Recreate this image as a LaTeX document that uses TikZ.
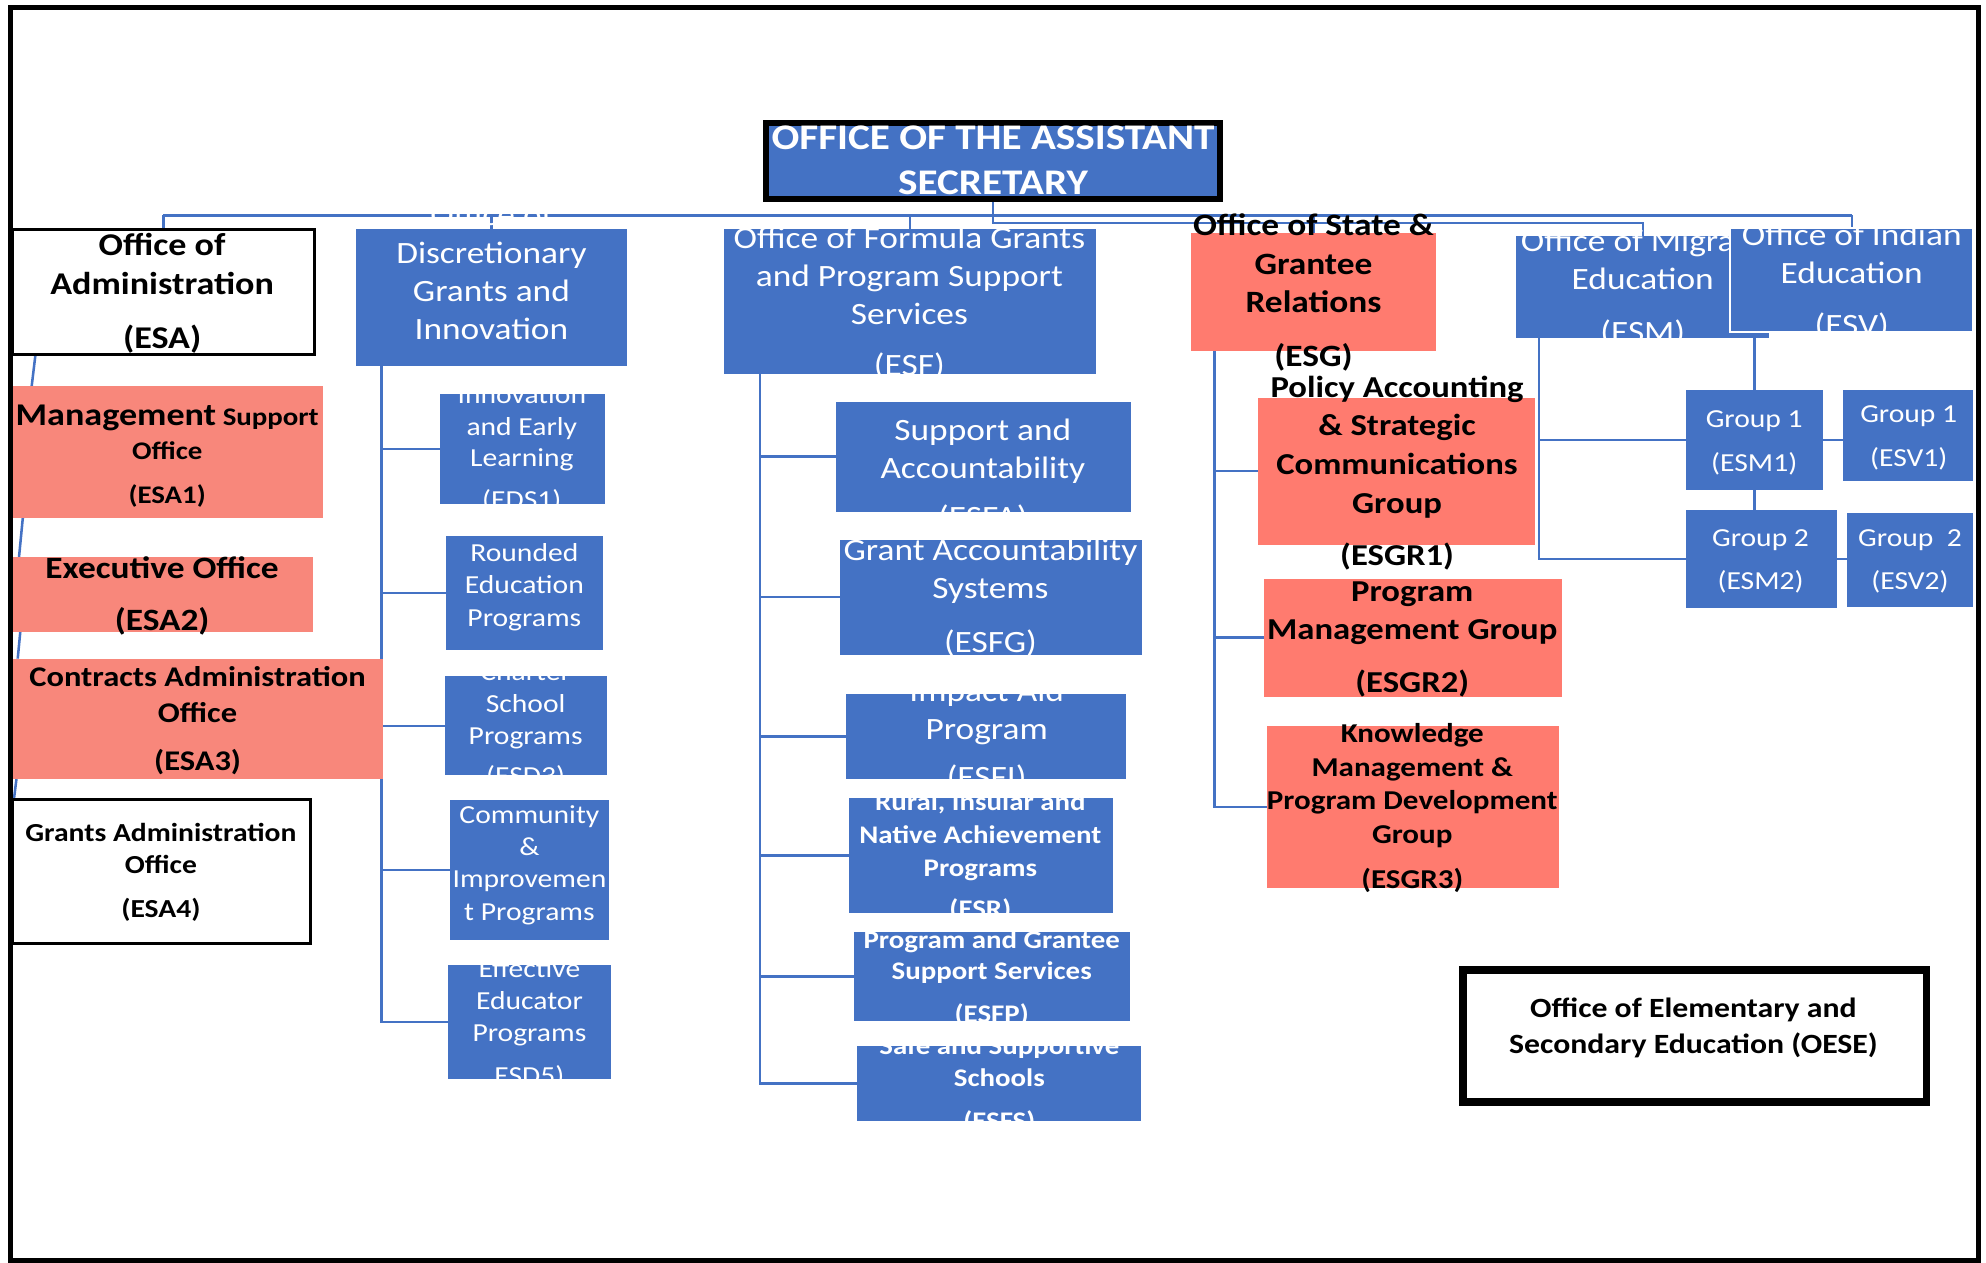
\documentclass[tikz,border=0pt]{standalone}
\usepackage{fontspec}
\setmainfont{Carlito}[FakeStretch=1.14]
\usetikzlibrary{fit,backgrounds}

\definecolor{oblue}{HTML}{4472C4}
\definecolor{osalmon}{HTML}{F8877B}
\definecolor{ored}{HTML}{FF7B6F}

\newcommand\fs[2]{\fontsize{#1}{#2}\selectfont}

\begin{document}
\begin{tikzpicture}[x=1pt, y=-1pt,
    box/.style={rectangle, inner sep=0pt, outer sep=0pt},
    bluebox/.style={box, fill=oblue},
    redbox/.style={box, fill=osalmon},
    rosebox/.style={box, fill=ored},
    plainbox/.style={box, fill=white, draw=black, line width=2.5pt},
    wtext/.style={text=white, align=center, inner sep=0pt},
    btext/.style={text=black, align=center, inner sep=0pt, font=\bfseries},
    link/.style={draw=oblue, line width=2pt}]

    \useasboundingbox (0,0) rectangle (1568,997);

    % Top of the chart
    \node[bluebox, draw=black, line width=5pt, fit={(605,97) (963,157)}] (oas) {};
    \node[wtext, font=\bfseries\fs{28.5}{35}] (oast) at (784,126.5) {OFFICE OF THE ASSISTANT\\SECRETARY};

    % First row of offices
    \node[plainbox, fit={(10,181) (248,280)}] (esa) {};
    \node[btext, font=\bfseries\fs{25}{31}] (esat) at (128,231.5) {Office of\\Administration\\[11pt](ESA)};

    \node[bluebox, fit={(281,181) (495,289)}] (dgi) {};
    \node[wtext, font=\fs{24.5}{30}] (dgit) at (388,215) {Office of\\Discretionary\\Grants and\\Innovation};

    \node[bluebox, fit={(572,181) (865,295)}] (esf) {};
    \node[wtext, font=\fs{24.5}{30}] (esft) at (718,239.5) {Office of Formula Grants\\and Program Support\\Services\\[11pt](ESF)};

    \node[rosebox, fit={(940,184) (1134,277)}] (esg) {};
    \node[btext, font=\bfseries\fs{24.5}{30.5}] (esgt) at (1037,231) {Office of State \&\\Grantee\\Relations\\[12pt](ESG)};

    \node[bluebox, fit={(1197,186) (1397,267)}] (esm) {};
    \node[wtext, font=\fs{24.5}{30}] (esmt) at (1297,228) {Office of Migrant\\Education\\[12pt](ESM)};

    \node[bluebox, draw=white, line width=1.5pt, fit={(1366,180) (1558,262)}] (esv) {};
    \node[wtext, font=\fs{24.5}{30}] (esvt) at (1462,222.5) {Office of Indian\\Education\\[11pt](ESV)};

    % Administration
    \node[redbox, fit={(10,305) (255,409)}] (esa1) {};
    \node[btext, font=\bfseries\fs{20}{27}] (esa1t) at (132,360) {{\fs{25}{27}Management} Support\\Office\\[8pt](ESA1)};

    \node[redbox, fit={(10,440) (247,499)}] (esa2) {};
    \node[btext, font=\bfseries\fs{24.5}{32}] (esa2t) at (128,470.5) {Executive Office\\[9pt](ESA2)};

    \node[redbox, fit={(10,520) (302,615)}] (esa3) {};
    \node[btext, font=\bfseries\fs{22.5}{28}] (esa3t) at (156,569) {Contracts Administration\\Office\\[10pt](ESA3)};

    \node[plainbox, fit={(10,631) (245,745)}] (esa4) {};
    \node[btext, font=\bfseries\fs{20.5}{25}] (esa4t) at (127,689) {Grants Administration\\Office\\[10pt](ESA4)};

    % Discretionary grants
    \node[bluebox, fit={(347,311) (478,398)}] (eds1) {};
    \node[wtext, font=\fs{20.5}{25}] (eds1t) at (412,354.5) {Innovation\\and Early\\Learning\\[8pt](EDS1)};

    \node[bluebox, fit={(352,423) (476,513)}] (esd2) {};
    \node[wtext, font=\fs{20.5}{25.5}] (esd2t) at (414,463.5) {Rounded\\Education\\Programs};

    \node[bluebox, fit={(351,534) (479,612)}] (esd3) {};
    \node[wtext, font=\fs{20.5}{25.5}] (esd3t) at (415,572.5) {Charter\\School\\Programs\\[6pt](ESD3)};

    \node[bluebox, fit={(355,632) (481,742)}] (esd4) {};
    \node[wtext, font=\fs{20.5}{25.5}] (esd4t) at (418,683) {Community\\\&\\Improvemen\\t Programs};

    \node[bluebox, fit={(354,762) (482,852)}] (esd5) {};
    \node[wtext, font=\fs{20.5}{25.5}] (esd5t) at (418,808) {Effective\\Educator\\Programs\\[8pt]ESD5)};

    % Formula grants
    \node[bluebox, fit={(660,317) (893,404)}] (esfa) {};
    \node[wtext, font=\fs{24.5}{30}] (esfat) at (776,375.5) {Support and\\Accountability\\[9pt](ESFA)};

    \node[bluebox, fit={(663,426) (902,517)}] (esfg) {};
    \node[wtext, font=\fs{24.5}{30}] (esfgt) at (782,472) {Grant Accountability\\Systems\\[12pt](ESFG)};

    \node[bluebox, fit={(668,548) (889,615)}] (esfi) {};
    \node[wtext, font=\fs{24.5}{30}] (esfit) at (779,581) {Impact Aid\\Program\\[8pt](ESFI)};

    \node[bluebox, fit={(670,630) (879,721)}] (esr) {};
    \node[wtext, font=\bfseries\fs{20}{26}] (esrt) at (774,676.5) {Rural, Insular and\\Native Achievement\\Programs\\[6pt](ESR)};

    \node[bluebox, fit={(674,736) (892,806)}] (esfp) {};
    \node[wtext, font=\bfseries\fs{20}{25}] (esfpt) at (783,772.5) {Program and Grantee\\Support Services\\[9pt](ESFP)};

    \node[bluebox, fit={(677,826) (901,885)}] (esfs) {};
    \node[wtext, font=\bfseries\fs{20}{25}] (esfst) at (789,856.5) {Safe and Supportive\\Schools\\[9pt](ESFS)};

    % State and grantee relations
    \node[rosebox, fit={(993,314) (1212,430)}] (esgr1) {};
    \node[btext, font=\bfseries\fs{24}{30.5}] (esgr1t) at (1103,373.5) {Policy Accounting\\\& Strategic\\Communications\\Group\\[11pt](ESGR1)};

    \node[rosebox, fit={(998,457) (1233,550)}] (esgr2) {};
    \node[btext, font=\bfseries\fs{24}{30}] (esgr2t) at (1115,505) {Program\\Management Group\\[12pt](ESGR2)};

    \node[rosebox, fit={(1000,573) (1231,701)}] (esgr3) {};
    \node[btext, font=\bfseries\fs{21.5}{26.5}] (esgr3t) at (1115,638) {Knowledge\\Management \&\\Program Development\\Group\\[9pt](ESGR3)};

    % Groups
    \node[bluebox, fit={(1331,308) (1439,387)}] (esm1) {};
    \node[wtext, font=\fs{20.5}{25}] (esm1t) at (1385,349.5) {Group 1\\[10pt](ESM1)};

    \node[bluebox, fit={(1455,308) (1558,380)}] (esv1) {};
    \node[wtext, font=\fs{20.5}{25}] (esv1t) at (1507,345.5) {Group 1\\[10pt](ESV1)};

    \node[bluebox, fit={(1331,403) (1450,480)}] (esm2) {};
    \node[wtext, font=\fs{20.5}{25}] (esm2t) at (1390,443) {Group 2\\[9pt](ESM2)};

    \node[bluebox, fit={(1458,405) (1558,479)}] (esv2) {};
    \node[wtext, font=\fs{20.5}{25}] (esv2t) at (1508,443) {Group\ \ 2\\[9pt](ESV2)};

    % Legend box
    \node[plainbox, line width=6pt, fit={(1155,766) (1521,870)}] (oese) {};
    \node[btext, font=\bfseries\fs{22}{29}] (oeset) at (1337,811.5) {Office of Elementary and\\Secondary Education (OESE)};

    % Connect the boxes
    \begin{scope}[on background layer]
        \coordinate (bus) at (784,170);
        \coordinate (bus2) at (784,176);
        \draw[link] (oas.south) -- (bus2) -| (esm.north);
        \draw[link] (esa.north |- bus) -- (esv.north |- bus);
        \foreach \n in {esa,dgi,esf,esg,esv}
            \draw[link] (\n.north |- bus) -- (\n.north);
        \draw[link] ([xshift=18pt]esa.south west) -- ([xshift=15pt]esa1.north west);
        \draw[link] ([xshift=8pt]esa1.south west) -- ([xshift=5pt]esa2.north west);
        \draw[link] ([xshift=6pt]esa2.south west) -- ([xshift=4pt]esa3.north west);
        \draw[link] ([xshift=3pt]esa3.south west) -- ([xshift=1pt]esa4.north west);
        \foreach \n in {eds1,esd2,esd3,esd4,esd5}
            \draw[link] ([xshift=20pt]dgi.south west) |- (\n.west);
        \foreach \n in {esfa,esfg,esfi,esr,esfp,esfs}
            \draw[link] ([xshift=28pt]esf.south west) |- (\n.west);
        \foreach \n in {esgr1,esgr2,esgr3}
            \draw[link] ([xshift=19pt]esg.south west) |- (\n.west);
        \foreach \n in {esm1,esm2}
            \draw[link] ([xshift=18pt]esm.south west) |- (\n.west);
        \draw[link] (esm1.north |- esv.south) -- (esm1.north);
        \draw[link] (esm1.south) -- (esm1.south |- esm2.north);
        \draw[link] (esm1.east) -- (esv1.west |- esm1.east);
        \draw[link] (esm2.east) -- (esv2.west |- esm2.east);
    \end{scope}

    % Outer frame
    \draw[line width=4pt] (8,6) rectangle (1562,995);
\end{tikzpicture}
\end{document}
